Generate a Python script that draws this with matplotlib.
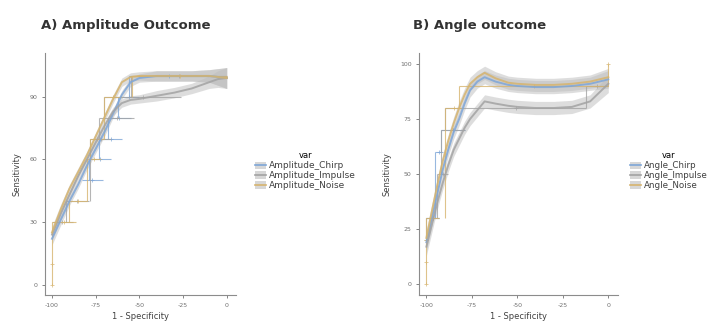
import numpy as np
import matplotlib
matplotlib.use("Agg")
import matplotlib.pyplot as plt
from matplotlib.patches import Patch
from matplotlib.lines import Line2D

plt.rcParams['font.family'] = ['DejaVu Sans']

# colours of the three stimulus types
col_chirp = '#7ea6d8'
col_imp = '#a3a3a3'
col_noise = '#d6b46e'
ribbon = '#bdbdbd'

# ---------------- A) Amplitude outcome ----------------
a_names = ['Amplitude_Chirp', 'Amplitude_Impulse', 'Amplitude_Noise']

# smoothed curves (x = 1 - specificity, y = sensitivity)
a_x = [-100, -95, -90, -85, -80, -75, -70, -65, -60, -55, -50, -40, -30, -20, -10, -5, 0]
a_chirp = [22, 31, 40, 48, 57, 65, 73, 82, 91, 97, 99, 100, 100, 100, 100, 99.5, 99]
a_imp = [24, 34, 43, 52, 60, 68, 76, 83, 87, 88.5, 89, 90.5, 92, 94, 97, 98.5, 99]
a_noise = [25, 36, 46, 54, 62, 71, 80, 89, 97, 99.5, 100, 100, 100, 100, 100, 99.5, 99]
a_band = [3, 2.5, 2, 2, 2, 2, 2, 2, 2, 2, 2, 2.5, 2.5, 2.5, 3, 4, 5]

# step / CI bars: sensitivity level, left and right end of the bar
a_chirp_lvl = [50, 60, 70, 80, 90, 100]
a_chirp_lo = [-83, -79, -73, -68, -62, -56]
a_chirp_hi = [-71, -66, -60, -55, -50, -10]
a_imp_lvl = [30, 40, 70, 80, 90, 100]
a_imp_lo = [-100, -92, -78, -73, -70, -55]
a_imp_hi = [-88, -79, -66, -53, -26, 0]
a_noise_lvl = [0, 10, 30, 40, 60, 70, 90, 100]
a_noise_lo = [-100, -100, -100, -90, -80, -78, -70, -54]
a_noise_hi = [-100, -100, -86, -80, -72, -70, -60, 0]

# ---------------- B) Angle outcome ----------------
b_names = ['Angle_Chirp', 'Angle_Impulse', 'Angle_Noise']

b_x = [-100, -97, -94, -91, -88, -85, -82, -79, -76, -72, -68, -62, -55, -50, -40, -30, -20, -10, -5, 0]
b_chirp = [19, 30, 41, 52, 61, 69, 75, 82, 88, 92, 94, 92, 90.5, 90, 89.5, 89.5, 90, 91, 92, 93]
b_imp = [17, 27, 37, 46, 54, 61, 66, 71, 75, 79, 83, 82, 81, 80.5, 80, 80, 80.5, 83, 87, 91]
b_noise = [21, 33, 45, 56, 65, 73, 80, 86, 91, 94, 96, 93.5, 91.5, 91, 90.5, 90.5, 91, 92, 93, 94]
b_band = [4, 3.5, 3, 3, 3, 3, 3, 3, 3, 3, 3, 3, 3, 3, 3, 3, 3, 3, 3.5, 4]

b_chirp_lvl = [30, 60, 70]
b_chirp_lo = [-100, -95, -92]
b_chirp_hi = [-93, -91, -79]
b_imp_lvl = [20, 30, 50, 70, 80, 90]
b_imp_lo = [-100, -100, -94, -92, -90, -12]
b_imp_hi = [-100, -93, -88, -79, -12, 0]
b_noise_lvl = [0, 10, 20, 30, 80, 90, 100]
b_noise_lo = [-100, -100, -100, -100, -90, -82, 0]
b_noise_hi = [-100, -100, -100, -93, -80, 0, 0]

fig = plt.figure(figsize=(7.14, 3.25), dpi=100)


def draw_steps(ax, lvl, lo, hi, c):
    ax.hlines(lvl, lo, hi, color=c, lw=0.8, alpha=0.8, zorder=3)
    for i in range(1, len(lvl)):
        ax.vlines(lo[i], lvl[i - 1], lvl[i], color=c, lw=0.8, alpha=0.8, zorder=3)
    ax.plot([(l + h) / 2 for l, h in zip(lo, hi)], lvl, '+', color=c, ms=2.5, mew=0.6, alpha=0.8, zorder=3)


def draw_panel(ax, x, curves, band, steps, cols):
    x = np.array(x)
    for y, c in zip(curves, cols):
        y = np.array(y)
        ax.fill_between(x, y - np.array(band), y + np.array(band), color=ribbon, alpha=0.5, lw=0, zorder=1)
    for (lvl, lo, hi), c in zip(steps, cols):
        draw_steps(ax, lvl, lo, hi, c)
    for y, c in zip(curves, cols):
        ax.plot(x, y, color=c, lw=1.4, alpha=0.85, zorder=4)
    ax.set_xticks([-100, -75, -50, -25, 0])
    ax.set_xticklabels(['-100', '-75', '-50', '-25', '0'])
    for s in ['top', 'right']:
        ax.spines[s].set_visible(False)
    for s in ['left', 'bottom']:
        ax.spines[s].set_color('#8c8c8c')
        ax.spines[s].set_linewidth(0.8)
    ax.tick_params(labelsize=4.5, colors='#707070', length=2, width=0.6)
    ax.set_xlabel('1 - Specificity', fontsize=6, color='#404040', labelpad=3)
    ax.set_ylabel('Sensitivity', fontsize=6, color='#404040', labelpad=6)


def legend(ax, names, cols, x, y, fs):
    handles = [(Patch(facecolor=ribbon, alpha=0.6, edgecolor='none'), Line2D([], [], color=c, lw=1.2)) for c in cols]
    ax.legend(handles, names, title='var', loc='upper left', bbox_to_anchor=(x, y),
              bbox_transform=fig.transFigure, frameon=False, fontsize=fs, title_fontsize=6,
              handlelength=1.2, handleheight=0.9, handletextpad=0.3, labelspacing=0.1,
              borderaxespad=0, labelcolor='#404040')


axA = fig.add_axes([0.063, 0.092, 0.268, 0.745])
draw_panel(axA, a_x, [a_chirp, a_imp, a_noise], a_band,
           [(a_chirp_lvl, a_chirp_lo, a_chirp_hi), (a_imp_lvl, a_imp_lo, a_imp_hi),
            (a_noise_lvl, a_noise_lo, a_noise_hi)],
           [col_chirp, col_imp, col_noise])
axA.set_xlim(-104, 5.5)
axA.set_ylim(-5, 111)
axA.set_yticks([0, 30, 60, 90])
legend(axA, a_names, [col_chirp, col_imp, col_noise], 0.352, 0.545, 6.5)

axB = fig.add_axes([0.587, 0.092, 0.279, 0.745])
draw_panel(axB, b_x, [b_chirp, b_imp, b_noise], b_band,
           [(b_chirp_lvl, b_chirp_lo, b_chirp_hi), (b_imp_lvl, b_imp_lo, b_imp_hi),
            (b_noise_lvl, b_noise_lo, b_noise_hi)],
           [col_chirp, col_imp, col_noise])
axB.set_xlim(-104, 5.5)
axB.set_ylim(-5, 105)
axB.set_yticks([0, 25, 50, 75, 100])
legend(axB, b_names, [col_chirp, col_imp, col_noise], 0.878, 0.545, 6.3)

fig.text(0.058, 0.92, 'A) Amplitude Outcome', fontsize=9.5, fontweight='bold', color='#333333', va='center')
fig.text(0.578, 0.92, 'B) Angle outcome', fontsize=9.5, fontweight='bold', color='#333333', va='center')

fig.savefig('out.png', dpi=100)
